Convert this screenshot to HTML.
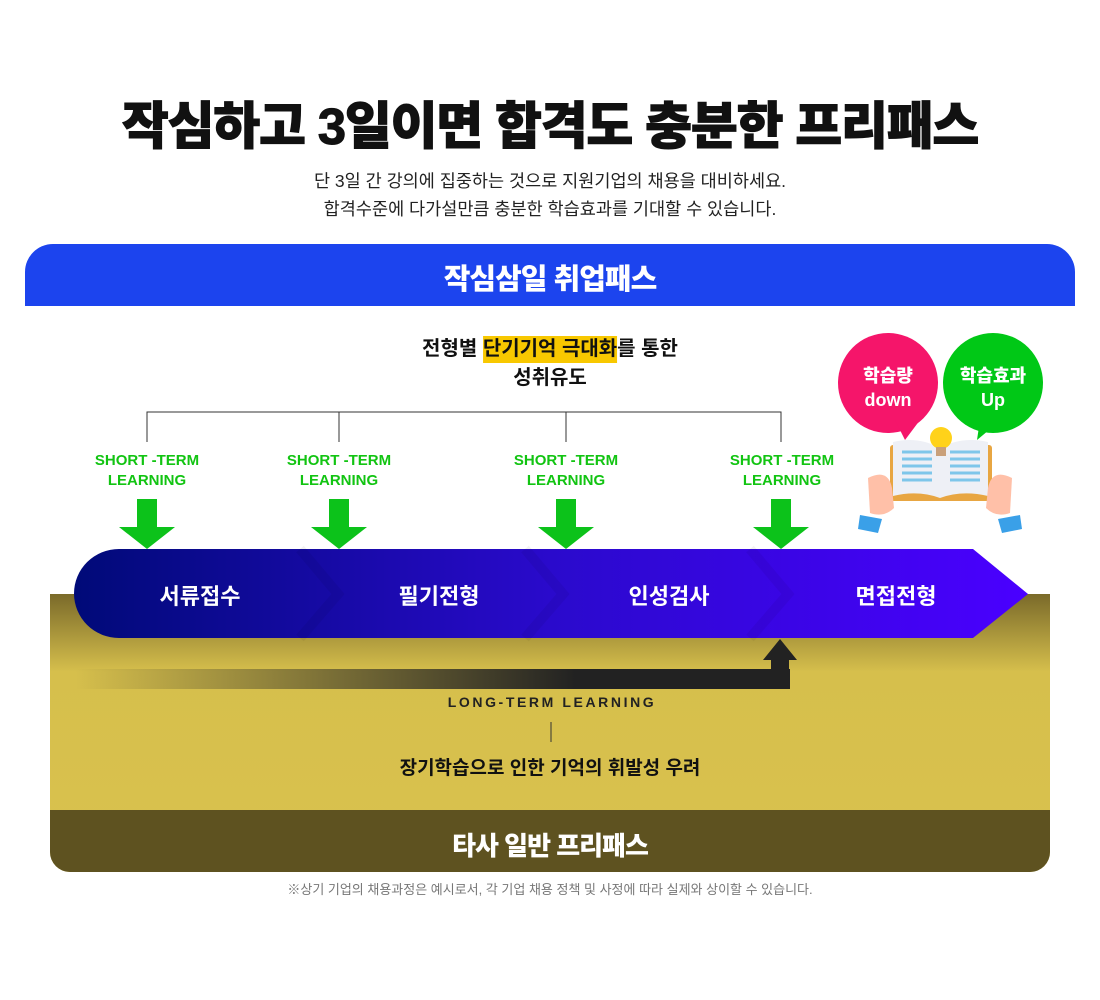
<!DOCTYPE html>
<html><head><meta charset="utf-8"><style>
*{margin:0;padding:0;box-sizing:border-box}
body{width:1100px;height:1000px;background:#fff;position:relative;overflow:hidden;font-family:"Liberation Sans","Noto Sans CJK KR",sans-serif}
.a{position:absolute;white-space:nowrap}
.c{transform:translateX(-50%)}
.st{color:#12c412;font-weight:bold;font-size:15px;text-align:center;line-height:20px}
</style></head><body>
<div class="a c" style="left:550px;top:85px;font-size:51px;font-weight:900;color:#111;letter-spacing:-1.2px;-webkit-text-stroke:1px #111">작심하고 3일이면 합격도 충분한 프리패스</div>
<div class="a c" style="left:550px;top:167px;font-size:17.5px;color:#222;text-align:center;line-height:28px">단 3일 간 강의에 집중하는 것으로 지원기업의 채용을 대비하세요.<br>합격수준에 다가설만큼 충분한 학습효과를 기대할 수 있습니다.</div>
<div class="a" style="left:25px;top:244px;width:1050px;height:62px;background:#1c44ee;border-radius:28px 28px 0 0"></div>
<div class="a c" style="left:550px;top:256px;font-size:29px;font-weight:900;color:#fff;letter-spacing:-1px">작심삼일 취업패스</div>
<div class="a c" style="left:550px;top:335px;font-size:20px;font-weight:bold;color:#111;text-align:center;line-height:29px">전형별 <span style="background:#f8c800;padding:2px 0 3px">단기기억 극대화</span>를 통한<br>성취유도</div>
<svg class="a" style="left:0;top:0" width="1100" height="1000">
<defs>
<linearGradient id="gold" x1="0" y1="0" x2="0" y2="1"><stop offset="0" stop-color="#7a6a2a"/><stop offset="0.28" stop-color="#d6bf4c"/><stop offset="1" stop-color="#d9c24e"/></linearGradient>
<linearGradient id="pipe" x1="0" x2="1"><stop offset="0" stop-color="#000a78"/><stop offset="0.5" stop-color="#2a0acc"/><stop offset="1" stop-color="#4a00ff"/></linearGradient>
<linearGradient id="lt" x1="0" x2="1"><stop offset="0" stop-color="#222" stop-opacity="0"/><stop offset="0.7" stop-color="#222"/><stop offset="1" stop-color="#222"/></linearGradient>
</defs>
<path d="M147 442V412H781V442M339 412V442M566 412V442" fill="none" stroke="#333" stroke-width="1"/>
<path d="M50 594H1050V852a20 20 0 0 1 -20 20H70a20 20 0 0 1 -20 -20Z" fill="url(#gold)"/>
<path d="M50 810H1050V852a20 20 0 0 1 -20 20H70a20 20 0 0 1 -20 -20Z" fill="#5e5220"/>
<path d="M119 549H973L1028 594L973 638H119a45 44.5 0 0 1 0 -89Z" fill="url(#pipe)"/>
<path d="M300 549L338 594L300 638M525 549L563 594L525 638M750 549L788 594L750 638" fill="none" stroke="#000" stroke-opacity="0.05" stroke-width="10"/>
<g fill="#0cc21a">
<path d="M137 499h20v28h18l-28 22l-28-22h18z"/>
<path d="M329 499h20v28h18l-28 22l-28-22h18z"/>
<path d="M556 499h20v28h18l-28 22l-28-22h18z"/>
<path d="M771 499h20v28h18l-28 22l-28-22h18z"/>
</g>
<rect x="75" y="669" width="715" height="20" fill="url(#lt)"/>
<path d="M771 689V660H763L780 639L797 660H789V686Q789 689 786 689Z" fill="#222"/>
<line x1="551" y1="722" x2="551" y2="742" stroke="#333"/>
<circle cx="888" cy="383" r="50" fill="#f5156a"/><path d="M895 420L905 440L920 420Z" fill="#f5156a"/>
<circle cx="993" cy="383" r="50" fill="#00c816"/><path d="M980 420L977 440L995 425Z" fill="#00c816"/>
<rect x="890" y="445" width="102" height="56" fill="#e8a642" rx="3"/>
<path d="M893 442Q918 436 940 448V498Q918 490 893 496Z" fill="#eef0f6"/>
<path d="M988 442Q962 436 940 448V498Q962 490 988 496Z" fill="#eef0f6"/>
<g stroke="#7ec6ea" stroke-width="3">
<path d="M902 452h30M902 459h30M902 466h30M902 473h30M902 480h30M950 452h30M950 459h30M950 466h30M950 473h30M950 480h30"/></g>
<circle cx="941" cy="438" r="11" fill="#ffd21a"/><rect x="936" y="447" width="10" height="9" fill="#c9a07a"/>
<path d="M868 478q20 -10 24 10l2 20q-10 10 -24 5z" fill="#ffc0a8"/><path d="M860 515l22 4l-4 14l-20-4z" fill="#3aa0e8"/>
<path d="M1012 478q-20 -10 -24 10l-2 20q10 10 24 5z" fill="#ffc0a8"/><path d="M1020 515l-22 4l4 14l20-4z" fill="#3aa0e8"/>
</svg>
<div class="a c" style="left:888px;top:364px;color:#fff;font-weight:900;font-size:18px;text-align:center;line-height:24px">학습량<br>down</div>
<div class="a c" style="left:993px;top:364px;color:#fff;font-weight:900;font-size:18px;text-align:center;line-height:24px">학습효과<br>Up</div>
<div class="a c st" style="left:147px;top:451px">SHORT -TERM<br>LEARNING</div>
<div class="a c st" style="left:339px;top:451px">SHORT -TERM<br>LEARNING</div>
<div class="a c st" style="left:566px;top:451px">SHORT -TERM<br>LEARNING</div>
<div class="a c st" style="left:782px;top:451px">SHORT -TERM<br>LEARNING</div>
<div class="a c" style="left:200px;top:579px;color:#fff;font-weight:bold;font-size:22px">서류접수</div>
<div class="a c" style="left:439px;top:579px;color:#fff;font-weight:bold;font-size:22px">필기전형</div>
<div class="a c" style="left:669px;top:579px;color:#fff;font-weight:bold;font-size:22px">인성검사</div>
<div class="a c" style="left:896px;top:579px;color:#fff;font-weight:bold;font-size:22px">면접전형</div>
<div class="a c" style="left:552px;top:694px;color:#222;font-weight:bold;font-size:14px;letter-spacing:2.6px">LONG-TERM LEARNING</div>
<div class="a c" style="left:550px;top:753px;color:#111;font-weight:bold;font-size:19px">장기학습으로 인한 기억의 휘발성 우려</div>
<div class="a c" style="left:550px;top:826px;color:#fff;font-weight:900;font-size:26px;letter-spacing:-1px">타사 일반 프리패스</div>
<div class="a c" style="left:550px;top:879px;color:#777;font-size:13px">※상기 기업의 채용과정은 예시로서, 각 기업 채용 정책 및 사정에 따라 실제와 상이할 수 있습니다.</div>
</body></html>
